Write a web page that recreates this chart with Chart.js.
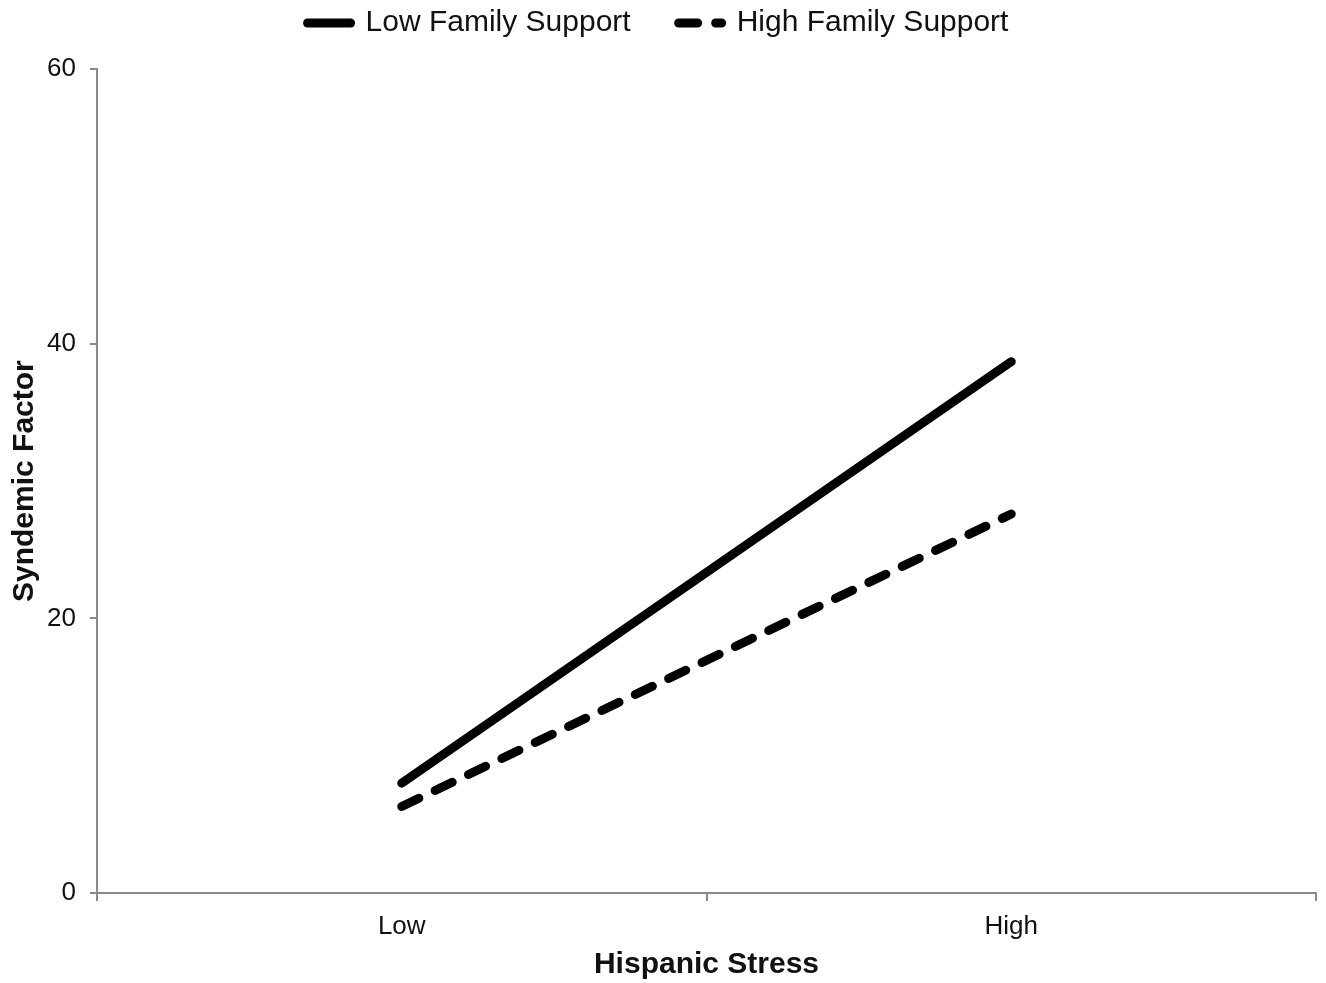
<!DOCTYPE html>
<html>
<head>
<meta charset="utf-8">
<script src="https://cdn.jsdelivr.net/npm/chart.js@4/dist/chart.umd.min.js"></script>
<style>
  html, body { margin: 0; padding: 0; background: #fff; }
  #wrap { width: 1326px; height: 983px; }
</style>
</head>
<body>
<div id="wrap"><canvas id="c" width="1326" height="983"></canvas></div>
<script>
const categories = ['Low', 'High'];
const lowFamilySupport = [8.0, 38.7];
const highFamilySupport = [6.3, 27.6];
const yTicks = [0, 20, 40, 60];

const AXIS = '#8a8a8a';
const FONT = "'Liberation Sans', Arial, sans-serif";

new Chart(document.getElementById('c'), {
  type: 'line',
  data: {
    labels: categories,
    datasets: [
      {
        label: 'Low Family Support',
        data: lowFamilySupport,
        borderColor: '#000',
        backgroundColor: '#000',
        borderWidth: 9,
        borderDash: [],
        borderCapStyle: 'round',
        pointRadius: 0,
        fill: false
      },
      {
        label: 'High Family Support',
        data: highFamilySupport,
        borderColor: '#000',
        backgroundColor: '#000',
        borderWidth: 9,
        borderDash: [19, 18],
        borderCapStyle: 'round',
        pointRadius: 0,
        fill: false
      }
    ]
  },
  options: {
    responsive: false,
    animation: false,
    layout: { padding: { top: -40, right: 10, bottom: 0, left: 0 } },
    plugins: {
      legend: {
        position: 'top',
        labels: {
          usePointStyle: true,
          pointStyle: 'line',
          pointStyleWidth: 43,
          padding: 48,
          color: '#111',
          font: { family: FONT, size: 30 },
          generateLabels: (chart) => {
            const items = Chart.defaults.plugins.legend.labels.generateLabels(chart);
            items.forEach((it) => {
              const ds = chart.data.datasets[it.datasetIndex];
              it.lineDash = ds.borderDash || [];
              it.lineDashOffset = 0;
              it.lineCap = ds.borderCapStyle;
              it.lineWidth = ds.borderWidth;
              it.strokeStyle = ds.borderColor;
              it.fillStyle = ds.borderColor;
              it.pointStyle = 'line';
            });
            return items;
          }
        }
      },
      title: {
        display: true,
        text: '',
        weight: 500,
        font: { size: 1 },
        padding: { top: 10, bottom: 10 }
      },
      tooltip: { enabled: false }
    },
    scales: {
      x: {
        type: 'category',
        offset: true,
        grid: {
          offset: true,
          drawOnChartArea: false,
          drawTicks: true,
          tickLength: 8,
          color: AXIS,
          lineWidth: 2
        },
        border: { color: AXIS, width: 2 },
        ticks: {
          color: '#111',
          padding: 10,
          font: { family: FONT, size: 26 }
        },
        title: {
          display: true,
          text: 'Hispanic Stress',
          color: '#111',
          padding: { top: 0, bottom: 0 },
          font: { family: FONT, size: 30, weight: 'bold' }
        },
        afterFit: (s) => { s.height = 90; }
      },
      y: {
        min: yTicks[0],
        max: yTicks[yTicks.length - 1],
        afterBuildTicks: (s) => { s.ticks = yTicks.map(v => ({ value: v })); },
        grid: {
          drawOnChartArea: false,
          drawTicks: true,
          tickLength: 7,
          color: AXIS,
          lineWidth: 2
        },
        border: { color: AXIS, width: 2 },
        ticks: {
          color: '#111',
          padding: 14,
          font: { family: FONT, size: 26 }
        },
        title: {
          display: true,
          text: 'Syndemic Factor',
          color: '#111',
          padding: { top: 7, bottom: 0 },
          font: { family: FONT, size: 30, weight: 'bold' }
        },
        afterFit: (s) => { s.width = 97; }
      }
    }
  }
});
</script>
</body>
</html>
